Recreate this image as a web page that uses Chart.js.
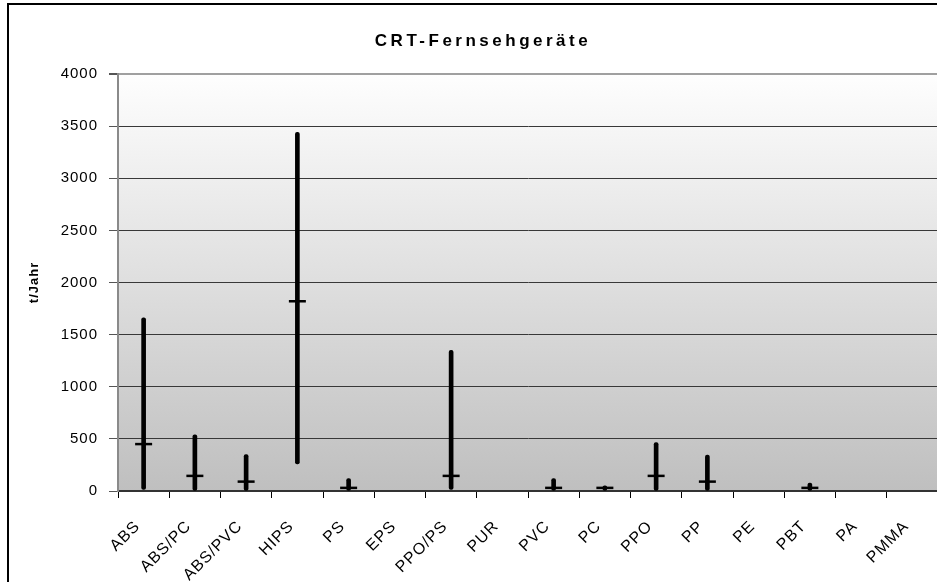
<!DOCTYPE html>
<html>
<head>
<meta charset="utf-8">
<script src="https://cdn.jsdelivr.net/npm/chart.js@4"></script>
<style>
  body { margin: 0; background: #fff; }
  #wrap { position: relative; width: 937px; height: 582px; overflow: hidden; }
  #chart { display: block; }
  #frame { position: absolute; left: 7px; top: 3px; right: 0; bottom: 0; border-left: 2px solid #000; border-top: 2px solid #000; pointer-events: none; }
</style>
</head>
<body>
<div id="wrap">
  <canvas id="chart" width="962" height="582"></canvas>
  <div id="frame"></div>
</div>
<script>
// Kunststoffe in CRT-Fernsehgeräten, t/Jahr (min / max / mittel)
const categories = ['ABS', 'ABS/PC', 'ABS/PVC', 'HIPS', 'PS', 'EPS', 'PPO/PS', 'PUR',
                    'PVC', 'PC', 'PPO', 'PP', 'PE', 'PBT', 'PA', 'PMMA'];
const lowValues  = [15, 0, 0, 260, 0, null, 15, null, 0, 0, 0, 0, null, 0, null, null];
const highValues = [1660, 540, 350, 3440, 120, null, 1350, null, 120, 50, 465, 345, null, 75, null, null];
const midValues  = [450, 145, 90, 1820, 30, null, 145, null, 30, 30, 145, 90, null, 30, null, null];
const yTicks = [0, 500, 1000, 1500, 2000, 2500, 3000, 3500, 4000];

const ranges = categories.map((c, i) => highValues[i] == null ? null : [lowValues[i], highValues[i]]);
const font = "'Liberation Sans', Arial, sans-serif";

// grey gradient behind the plot area
const plotBackground = {
    id: 'plotBackground',
    beforeDraw(chart) {
        const { ctx, chartArea: a } = chart;
        const g = ctx.createLinearGradient(0, a.top, 0, a.bottom);
        g.addColorStop(0, '#fefefe');
        g.addColorStop(1, '#bfbfbf');
        ctx.save();
        ctx.fillStyle = g;
        ctx.fillRect(a.left, a.top, a.right - a.left, a.bottom - a.top);
        ctx.restore();
        ctx.letterSpacing = '1px';
    }
};

// wider letter spacing for the title, centred on the full (cut off) chart width
const titleSpacing = {
    id: 'titleSpacing',
    afterInit(chart) {
        const tb = chart.titleBlock;
        if (!tb) return;
        const draw = tb.draw.bind(tb);
        tb.draw = function () {
            const c = chart.ctx;
            c.save();
            c.translate(14, 0);
            c.letterSpacing = '3.5px';
            draw();
            c.restore();
            c.letterSpacing = '1px';
        };
    }
};

const ctx = document.getElementById('chart').getContext('2d');
new Chart(ctx, {
    type: 'bar',
    data: {
        labels: categories,
        datasets: [{
            type: 'bar',
            label: 'Spanne',
            data: ranges,
            backgroundColor: '#000',
            barThickness: 4,
            borderRadius: 2,
            borderSkipped: false,
            order: 2
        }, {
            type: 'line',
            label: 'Mittelwert',
            data: midValues,
            showLine: false,
            pointStyle: 'line',
            pointRadius: 8.5,
            pointHoverRadius: 8.5,
            pointBorderWidth: 2.5,
            borderColor: '#000',
            backgroundColor: '#000',
            order: 1
        }]
    },
    options: {
        responsive: false,
        animation: false,
        layout: { padding: { left: 0, right: 24, top: 0, bottom: 0 } },
        plugins: {
            legend: { display: false },
            tooltip: { enabled: false },
            title: {
                display: true,
                text: 'CRT-Fernsehgeräte',
                color: '#000',
                font: { family: font, size: 17, weight: 'bold' },
                padding: { top: 31, bottom: 22.6 }
            }
        },
        scales: {
            x: {
                grid: { drawOnChartArea: false, tickLength: 7, color: '#000', offset: true },
                border: { color: '#333', width: 2 },
                ticks: {
                    color: '#000',
                    font: { family: font, size: 16 },
                    maxRotation: 45,
                    minRotation: 45,
                    padding: 19,
                    labelOffset: -6,
                    autoSkip: false
                },
                afterFit(scale) { scale.height = 91; }
            },
            y: {
                min: 0,
                max: 4000,
                afterBuildTicks(scale) { scale.ticks = yTicks.map(v => ({ value: v })); },
                ticks: {
                    color: '#000',
                    font: { family: font, size: 15 },
                    padding: 11,
                    callback: v => String(v)
                },
                grid: {
                    color: c => c.tick && c.tick.value === 4000 ? '#a0a0a0' : '#383838',
                    lineWidth: c => c.tick && c.tick.value === 4000 ? 2 : 1,
                    tickLength: 9,
                    tickColor: '#555'
                },
                border: { color: '#8a8a8a', width: 2 },
                title: {
                    display: true,
                    text: 't/Jahr',
                    color: '#000',
                    font: { family: font, size: 13, weight: 'bold' },
                    padding: { top: 27, bottom: 0 }
                },
                afterFit(scale) { scale.width = 118; }
            }
        }
    },
    plugins: [plotBackground, titleSpacing]
});
</script>
</body>
</html>
